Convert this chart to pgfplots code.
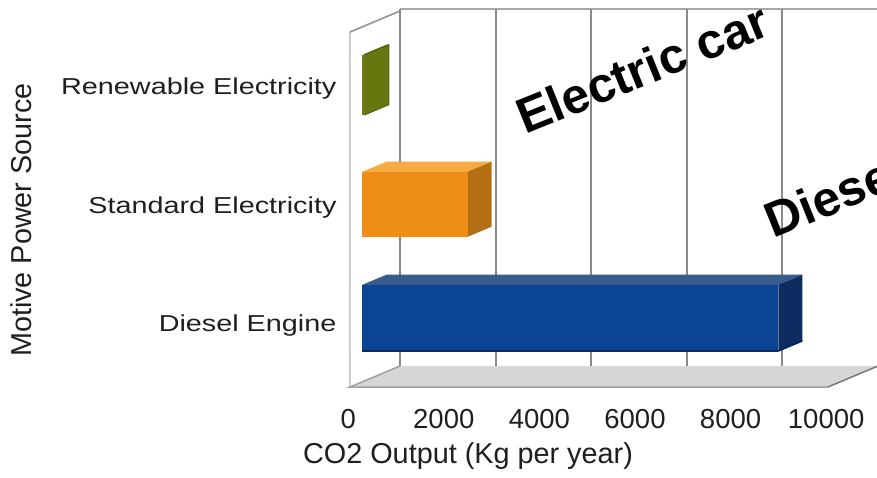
\documentclass[border=0pt]{standalone}
\usepackage{fontspec}
\setmainfont{Liberation Sans}
\usepackage{pgfplots}
\pgfplotsset{compat=1.18}

\definecolor{gridgray}{RGB}{138,138,138}
\definecolor{walledge}{RGB}{196,196,196}
\definecolor{walltop}{RGB}{150,150,150}
\definecolor{floorfill}{RGB}{214,214,214}
\definecolor{flooredge}{RGB}{120,120,120}
\definecolor{bluefront}{RGB}{12,68,148}
\definecolor{blueside}{RGB}{12,44,98}
\definecolor{bluetop}{RGB}{58,92,140}
\definecolor{blueedge}{RGB}{8,36,82}
\definecolor{orangefront}{RGB}{238,142,22}
\definecolor{orangeside}{RGB}{180,110,22}
\definecolor{orangetop}{RGB}{246,172,66}
\definecolor{greenfront}{RGB}{112,124,18}
\definecolor{greenside}{RGB}{104,118,16}
\definecolor{greentop}{RGB}{86,96,20}

\newcommand\labelfont{\fontsize{28.8}{32}\selectfont}

\begin{document}
\begin{tikzpicture}
\begin{axis}[
  x={(0.0478pt,0pt)}, y={(50pt,21pt)}, z={(0pt,1pt)},
  xmin=0, xmax=10000, ymin=0, ymax=1, zmin=0, zmax=355,
  clip=false,
  axis line style={draw=none},
  major tick length=0pt,
  scaled x ticks=false,
  xtick={0,2000,4000,6000,8000,10000},
  xticklabels={0,2000,4000,6000,8000,10000},
  ytick=\empty,
  ztick={61,179,298},
  zticklabels={Diesel Engine,Standard Electricity,Renewable Electricity},
  xticklabel style={font=\fontsize{27.5}{30}\selectfont, xshift=7pt, yshift=-19pt, text=black!88},
  zticklabel style={font=\fontsize{28.8}{30}\selectfont, yscale=0.8, anchor=east, xshift=-10pt, text=black!88},
  every axis x label/.style={at={(axis cs:2469,0,0)}, anchor=center, yshift=-69pt, font=\labelfont, text=black!88},
  every axis z label/.style={at={(axis cs:-6883,0,167)}, anchor=center, rotate=90, font=\labelfont, text=black!88},
  xlabel={CO2 Output (Kg per year)},
  zlabel={Motive Power Source},
]
\coordinate (O) at (axis cs:0,0,0);

% left wall
\addplot3[draw=walledge, line width=1.5pt, fill=white]
  coordinates {(0,0,0) (0,0,355) (0,1,355) (0,1,0)};
\addplot3[draw=walltop, line width=1.5pt]
  coordinates {(0,0,355) (0,1,355)};

% back wall: top edge and vertical grid lines
\addplot3[draw=walledge!85!black, line width=2pt]
  coordinates {(0,1,357) (10000,1,357)};
\addplot3[draw=gridgray, line width=2pt] coordinates {(0,1,0) (0,1,357)};
\addplot3[draw=gridgray, line width=2pt] coordinates {(2000,1,0) (2000,1,357)};
\addplot3[draw=gridgray, line width=2pt] coordinates {(4000,1,0) (4000,1,357)};
\addplot3[draw=gridgray, line width=2pt] coordinates {(6000,1,0) (6000,1,357)};
\addplot3[draw=gridgray, line width=2pt] coordinates {(8000,1,0) (8000,1,357)};
\addplot3[draw=gridgray, line width=2pt] coordinates {(10000,1,0) (10000,1,357)};

% floor
\addplot3[draw=none, fill=floorfill]
  coordinates {(0,0,0) (10000,0,0) (10000,1,0) (0,1,0)};
\addplot3[draw=flooredge!70, line width=1.5pt]
  coordinates {(0,1,0) (0,0,0) (10000,0,0)};
\addplot3[draw=flooredge, line width=1.5pt]
  coordinates {(10000,0,0) (10000,1,0)};

% Diesel Engine: 8700
\addplot3[draw=none, fill=bluetop]
  coordinates {(0,0.25,97) (8700,0.25,97) (8700,0.73,97) (0,0.73,97)};
\addplot3[draw=none, fill=blueside]
  coordinates {(8700,0.25,30) (8700,0.73,30) (8700,0.73,97) (8700,0.25,97)};
\addplot3[draw=none, fill=bluefront]
  coordinates {(0,0.25,30) (8700,0.25,30) (8700,0.25,97) (0,0.25,97)};
\addplot3[draw=blueedge, line width=1.5pt]
  coordinates {(0,0.25,31) (8700,0.25,31) (8700,0.73,31)};

% Standard Electricity: 2200
\addplot3[draw=none, fill=orangetop]
  coordinates {(0,0.25,210) (2200,0.25,210) (2200,0.73,210) (0,0.73,210)};
\addplot3[draw=none, fill=orangeside]
  coordinates {(2200,0.25,145) (2200,0.73,145) (2200,0.73,210) (2200,0.25,210)};
\addplot3[draw=none, fill=orangefront]
  coordinates {(0,0.25,145) (2200,0.25,145) (2200,0.25,210) (0,0.25,210)};

% Renewable Electricity: 50
\addplot3[draw=none, fill=greentop]
  coordinates {(0,0.25,327) (50,0.25,327) (50,0.73,327) (0,0.73,327)};
\addplot3[draw=greentop, line width=1pt, fill=greenside]
  coordinates {(50,0.25,267) (50,0.73,267) (50,0.73,327) (50,0.25,327)} -- cycle;
\addplot3[draw=none, fill=greenfront]
  coordinates {(0,0.25,267) (50,0.25,267) (50,0.25,327) (0,0.25,327)};

% annotations
\node[rotate=22, anchor=base west, font=\bfseries\fontsize{49.5}{52}\selectfont]
  at (axis cs:2550,1,230) {Electric car};
\node[rotate=22, anchor=base west, font=\bfseries\fontsize{49.5}{52}\selectfont]
  at (axis cs:7740,1,126) {Diesel car};
\end{axis}
\pgfresetboundingbox
\path ([shift={(-350pt,-90pt)}]O) rectangle ([shift={(527pt,387pt)}]O);
\end{tikzpicture}
\end{document}
